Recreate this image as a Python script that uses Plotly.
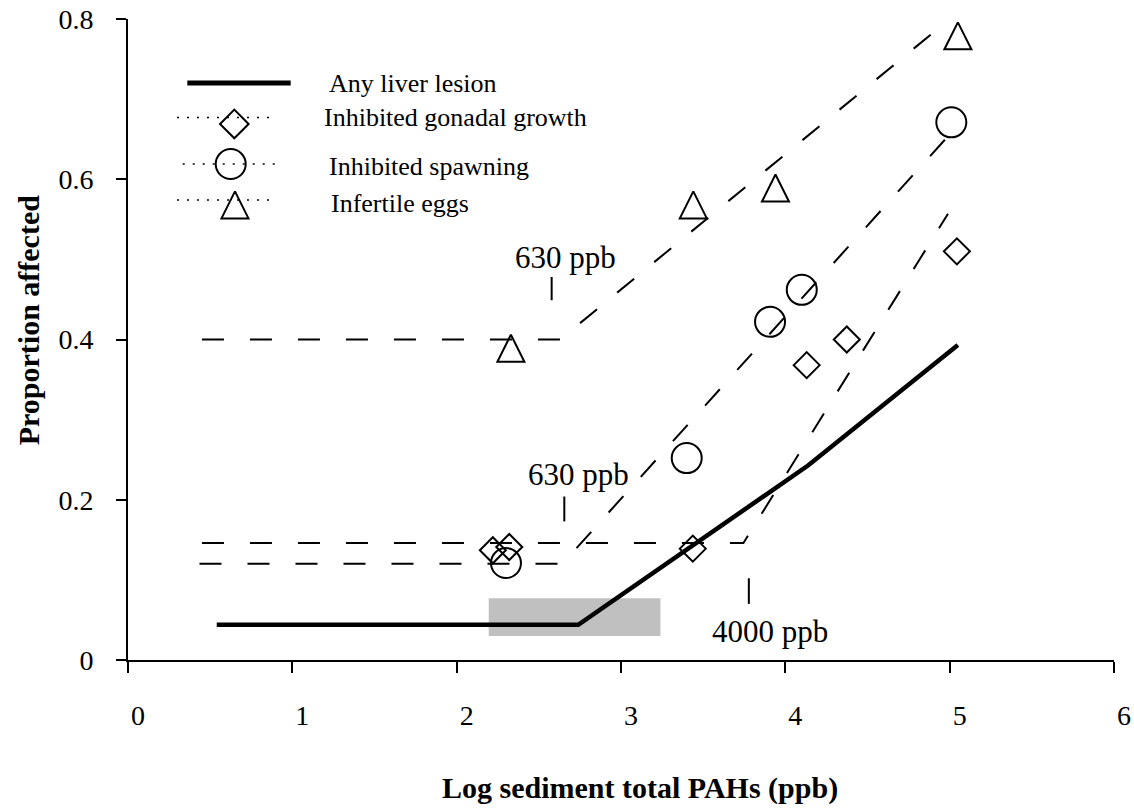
import plotly.graph_objects as go

# ---------------- data ----------------
liver_x = [0.54, 2.74, 4.14, 5.05]
liver_y = [0.044, 0.044, 0.243, 0.393]

gonad_fit_x = [0.45, 3.745, 4.99]
gonad_fit_y = [0.146, 0.146, 0.557]
spawn_fit_x = [0.435, 2.643, 5.0]
spawn_fit_y = [0.12, 0.12, 0.656]
eggs_fit_x = [0.45, 2.63, 5.0]
eggs_fit_y = [0.40, 0.40, 0.80]

gonad_x = [2.22, 2.32, 3.437, 4.13, 4.374, 5.044]
gonad_y = [0.137, 0.141, 0.139, 0.368, 0.400, 0.510]
spawn_x = [2.30, 3.40, 3.907, 4.10, 5.01]
spawn_y = [0.121, 0.252, 0.422, 0.462, 0.671]
eggs_x = [2.33, 3.44, 3.94, 5.05]
eggs_y = [0.389, 0.568, 0.589, 0.779]

band_x = [2.195, 3.24]
band_y = [0.030, 0.077]

x_ticks = [0, 1, 2, 3, 4, 5, 6]
y_ticks = [0, 0.2, 0.4, 0.6, 0.8]
y_ticktext = ["0", "0.2", "0.4", "0.6", "0.8"]

thresholds = [  # (label, tick x, tick y0, tick y1, label x, label y)
    ("630 ppb", 2.578, 0.449, 0.478, 2.66, 0.502),
    ("630 ppb", 2.655, 0.173, 0.204, 2.741, 0.231),
    ("4000 ppb", 3.778, 0.070, 0.102, 3.907, 0.036),
]

legend_names = ["Any liver lesion", "Inhibited gonadal growth",
                "Inhibited spawning", "Infertile eggs"]

x_title = "Log sediment total PAHs (ppb)"
y_title = "Proportion affected"

# ---------------- styling ----------------
FONT = "Liberation Serif"
PLOT_H = 641
Y_RANGE = 0.8
TRI_SIZE = 27
tri_shift = (TRI_SIZE / 2) / PLOT_H * Y_RANGE  # centres arrow-style triangles on points
DASH = "22px,26px"

fig = go.Figure()

# fitted dashed lines
for fx, fy in [(gonad_fit_x, gonad_fit_y), (spawn_fit_x, spawn_fit_y), (eggs_fit_x, eggs_fit_y)]:
    fig.add_trace(go.Scatter(x=fx, y=fy, mode="lines",
                             line=dict(color="black", width=2, dash=DASH),
                             showlegend=False, hoverinfo="skip"))

# liver lesion line
fig.add_trace(go.Scatter(x=liver_x, y=liver_y, mode="lines",
                         line=dict(color="black", width=4.5),
                         showlegend=False, name=legend_names[0]))

# observed points
fig.add_trace(go.Scatter(x=gonad_x, y=gonad_y, mode="markers", name=legend_names[1],
                         marker=dict(symbol="diamond-open", size=20, color="black",
                                     line=dict(width=2, color="black")),
                         showlegend=False, cliponaxis=False))
fig.add_trace(go.Scatter(x=spawn_x, y=spawn_y, mode="markers", name=legend_names[2],
                         marker=dict(symbol="circle-open", size=30, color="black",
                                     line=dict(width=2, color="black")),
                         showlegend=False, cliponaxis=False))
fig.add_trace(go.Scatter(x=eggs_x, y=eggs_y, mode="markers", name=legend_names[3],
                         yaxis="y2",
                         marker=dict(symbol="arrow-up-open", size=TRI_SIZE, color="black",
                                     line=dict(width=2, color="black")),
                         showlegend=False, cliponaxis=False))

# ---------------- custom legend (data-space positions) ----------------
leg_rows_y = [0.720, 0.677, 0.619, 0.574]
leg_text_x = [1.209, 1.179, 1.209, 1.222]
leg_text_y = [0.720, 0.677, 0.616, 0.570]
fig.add_trace(go.Scatter(x=[0.361, 0.990], y=[leg_rows_y[0]] * 2, mode="lines",
                         line=dict(color="black", width=5), showlegend=False, hoverinfo="skip"))
for x0, x1, yy in [(0.298, 0.905, leg_rows_y[1]), (0.333, 0.935, leg_rows_y[2]),
                   (0.298, 0.905, leg_rows_y[3])]:
    fig.add_trace(go.Scatter(x=[x0, x1], y=[yy, yy], mode="lines",
                             line=dict(color="black", width=1.5, dash="2px,8px"),
                             showlegend=False, hoverinfo="skip"))
fig.add_trace(go.Scatter(x=[0.647], y=[0.669], mode="markers",
                         marker=dict(symbol="diamond-open", size=22, color="black",
                                     line=dict(width=2, color="black")),
                         showlegend=False, hoverinfo="skip"))
fig.add_trace(go.Scatter(x=[0.625], y=[leg_rows_y[2]], mode="markers",
                         marker=dict(symbol="circle-open", size=30, color="black",
                                     line=dict(width=2, color="black")),
                         showlegend=False, hoverinfo="skip"))
fig.add_trace(go.Scatter(x=[0.651], y=[0.568], mode="markers", yaxis="y2",
                         marker=dict(symbol="arrow-up-open", size=TRI_SIZE, color="black",
                                     line=dict(width=2, color="black")),
                         showlegend=False, hoverinfo="skip"))
for name, tx, ty in zip(legend_names, leg_text_x, leg_text_y):
    fig.add_annotation(x=tx, y=ty, text=name, showarrow=False, xanchor="left",
                       yanchor="middle", font=dict(family=FONT, size=26, color="black"))

# ---------------- shaded band & threshold markers ----------------
fig.add_shape(type="rect", x0=band_x[0], x1=band_x[1], y0=band_y[0], y1=band_y[1],
              fillcolor="#c0c0c0", line=dict(width=0), layer="below")
for label, tx, ty0, ty1, lx, ly in thresholds:
    fig.add_shape(type="line", x0=tx, x1=tx, y0=ty0, y1=ty1,
                  line=dict(color="black", width=2))
    fig.add_annotation(x=lx, y=ly, text=label, showarrow=False, xanchor="center",
                       yanchor="middle", font=dict(family=FONT, size=31, color="black"))

# ---------------- axis titles ----------------
fig.add_annotation(xref="paper", yref="paper", x=0.519, y=-0.200, text=f"<b>{x_title}</b>",
                   showarrow=False, xanchor="center", yanchor="middle",
                   font=dict(family=FONT, size=30, color="black"))
fig.add_annotation(xref="paper", yref="paper", x=-0.1014, y=0.530, text=f"<b>{y_title}</b>",
                   showarrow=False, xanchor="center", yanchor="middle", textangle=-90,
                   font=dict(family=FONT, size=30, color="black"))

fig.update_layout(
    width=1134, height=809,
    margin=dict(l=128, r=20, t=19, b=149),
    paper_bgcolor="white", plot_bgcolor="white",
    font=dict(family=FONT, color="black"),
    xaxis=dict(range=[0, 6], tickvals=x_ticks, ticktext=[str(t) for t in x_ticks],
               automargin=False,
               showgrid=False, zeroline=False, showline=True, linecolor="black",
               linewidth=2, ticks="outside", ticklen=11, tickwidth=2, tickcolor="black",
               ticklabelstandoff=18, ticklabelshift=10, tickfont=dict(family=FONT, size=28)),
    yaxis=dict(range=[0, Y_RANGE], tickvals=y_ticks, ticktext=y_ticktext,
               automargin=False,
               showgrid=False, zeroline=False, showline=True, linecolor="black",
               linewidth=2, ticks="outside", ticklen=10, tickwidth=2, tickcolor="black",
               ticklabelstandoff=17, tickfont=dict(family=FONT, size=28)),
    yaxis2=dict(overlaying="y", range=[-tri_shift, Y_RANGE - tri_shift], visible=False,
                automargin=False, showgrid=False, zeroline=False),
)

fig.write_html("out.html")
